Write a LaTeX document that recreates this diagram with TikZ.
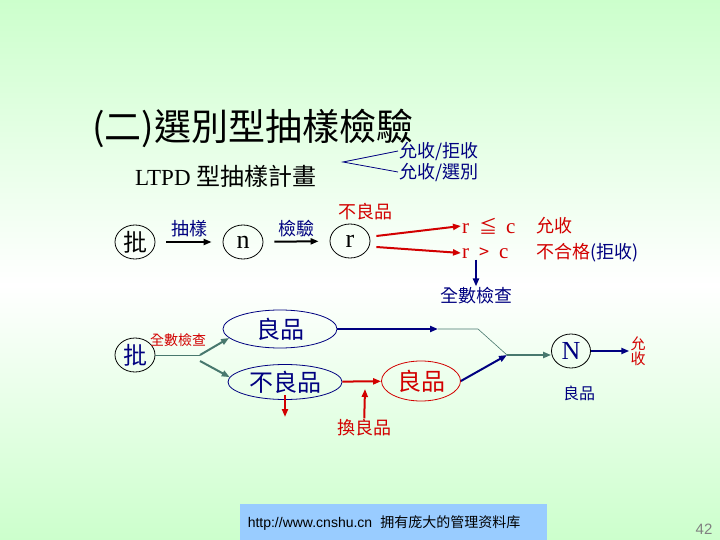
\documentclass[tikz,border=0pt]{standalone}
\usepackage{fontspec}
\setmainfont{Liberation Serif}
\setsansfont{Liberation Sans}
\newfontfamily\cjk{Noto Sans CJK TC}
\newfontfamily\cjksc{Noto Sans CJK SC}
\usetikzlibrary{shapes.geometric,arrows.meta,positioning}
\definecolor{bggreen}{RGB}{204,255,204}
\definecolor{pptnavy}{RGB}{0,0,128}
\definecolor{pptred}{RGB}{210,0,0}
\definecolor{pptteal}{RGB}{72,120,110}
\definecolor{footblue}{RGB}{153,204,255}
\newcommand{\setfs}[1]{\fontsize{#1}{#1}\selectfont}

\begin{document}
\begin{tikzpicture}[x=1pt,y=-1pt,
        lot/.style={draw,ellipse,line width=0.8pt,minimum width=40pt,minimum height=34pt,inner sep=0pt},
        oval/.style={draw=pptnavy,ellipse,line width=0.8pt,inner sep=0pt,font=\cjk\setfs{24},text=pptnavy},
        lbl/.style={inner sep=1pt,font=\cjk\setfs{18},text=pptnavy},
        redlbl/.style={inner sep=1pt,font=\cjk\setfs{18},text=pptred},
        blkarrow/.style={-{Triangle[length=8pt,width=6pt]},line width=2pt,black},
        navyarrow/.style={-{Triangle[length=8pt,width=6pt]},line width=2pt,pptnavy},
        redarrow/.style={-{Triangle[length=8pt,width=6pt]},line width=2pt,pptred},
        tealarrow/.style={-{Triangle[length=8pt,width=6pt]},line width=2pt,pptteal}
    ]
    % background
    \useasboundingbox (0,0) rectangle (720,540);
    \fill[top color=bggreen,bottom color=white] (0,0) rectangle (720,285);
    \fill[top color=white,bottom color=bggreen] (0,285) rectangle (720,540);

    % title
    \node[anchor=west,inner sep=0pt,font=\cjk\setfs{37}] (title) at (92,128) {(二)選別型抽樣檢驗};
    \node[anchor=west,inner sep=0pt,font=\cjk\setfs{24}] (plan) at (135,176) {{\rmfamily\setfs{23}LTPD}\hspace{6pt}型抽樣計畫};
    \coordinate (fork) at (343,162);
    \node[lbl,anchor=west] (acc1) at (398,151) {允收/拒收};
    \node[lbl,anchor=west] (acc3) at (398,172) {允收/選別};
    \draw[pptnavy,line width=0.8pt] (acc1.west) -- (fork) -- (acc3.west);

    % sampling row
    \node[lot,font=\cjk\setfs{24}] (lot1) at (135,242) {批};
    \node[lot,font=\rmfamily\setfs{26}] (n) at (243,242) {n};
    \node[lot,font=\rmfamily\setfs{26}] (r) at (350,241) {r};
    \draw[blkarrow,shorten <=11pt,shorten >=11pt] (lot1) -- node[lbl,above=3pt]{抽樣} (n);
    \draw[blkarrow,shorten <=11pt,shorten >=11pt] (n) -- node[lbl,above=3pt]{檢驗} (r);
    \node[redlbl] (defect) at (365,212) {不良品};
    \node[redlbl,anchor=west] (le) at (461,226) {{\rmfamily\setfs{21}r}\hspace{10pt}≦\hspace{9pt}{\rmfamily\setfs{21}c}};
    \node[redlbl,anchor=west] (gt) at (461,253) {{\rmfamily\setfs{21}r}\hspace{10pt}>\hspace{10pt}{\rmfamily\setfs{21}c}};
    \node[redlbl,anchor=west] (ok) at (535,226) {允收};
    \node[redlbl,anchor=west] (ng) at (535,253) {不合格\textcolor{pptnavy}{(拒收)}};
    \draw[redarrow] ([xshift=6pt,yshift=5pt]r.east) -- (le.west);
    \draw[redarrow] ([xshift=6pt,yshift=-6pt]r.east) -- (gt.west);
    \node[lbl] (full1) at (476,296) {全數檢查};
    \draw[navyarrow] (full1.north |- gt.south) -- (full1.north);

    % 100% inspection row
    \node[lot,font=\cjk\setfs{24},text=pptnavy] (lot2) at (135,355) {批};
    \coordinate (split) at (200,355);
    \node[redlbl,font=\cjk\setfs{14}] (full2) at (178,340) {全數檢查};
    \node[oval,minimum width=114pt,minimum height=38pt] (good1) at (280,329) {良品};
    \node[oval,minimum width=114pt,minimum height=35pt] (bad1) at (285,382) {不良品};
    \node[oval,draw=pptred,text=pptred,minimum width=79pt,minimum height=40pt] (good2) at (421,381) {良品};
    \node[lot,text=pptnavy,font=\rmfamily\setfs{26},minimum width=39pt] (N) at (571,351) {N};
    \node[redlbl,font=\cjk\setfs{15},align=center] (acc2) at (638,351) {允\\收};
    \node[lbl,font=\cjk\setfs{16}] (good3) at (579,393) {良品};
    \node[redlbl] (swap) at (364,428) {換良品};
    \coordinate (scrap) at (285,417);
    \coordinate (swapin) at (365,389);
    \coordinate (mid1) at (438,329);
    \coordinate (bend) at (478,329);
    \coordinate (join) at (507,355);

    \draw[pptteal,line width=1pt] (lot2) -- (split);
    \draw[tealarrow] (split) -- (good1.190);
    \draw[tealarrow] ([yshift=-6pt]split) -- (bad1.175);
    \draw[navyarrow] (good1) -- (mid1);
    \draw[pptteal,line width=0.6pt] (mid1) -- (bend) -- (join);
    \draw[redarrow] (bad1) -- (good2);
    \draw[redarrow] ([yshift=5pt]bad1.south) -- (scrap);
    \draw[redarrow] (swap) -- (swapin);
    \draw[navyarrow] (good2.east) -- (join);
    \draw[tealarrow] (join) -- (join -| N.west);
    \draw[navyarrow] (N) -- (acc2);

    % footer
    \fill[footblue] (240,504) rectangle (547,540);
    \node[inner sep=0pt,font=\sffamily\setfs{14}] (url) at (384,523) {http://www.cnshu.cn\hspace{8pt}{\cjksc 拥有庞大的管理资料库}};
    \node[font=\sffamily\setfs{15},text=gray] (page) at (704,529) {42};
\end{tikzpicture}
\end{document}
